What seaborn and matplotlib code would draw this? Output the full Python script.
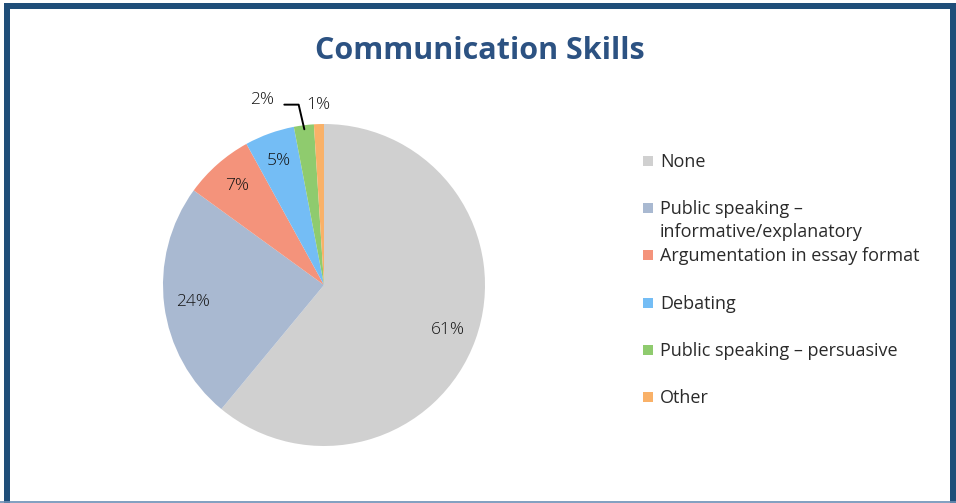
import numpy as np
import matplotlib
matplotlib.use("Agg")
import matplotlib.pyplot as plt
import matplotlib.patches as mpatches
from matplotlib.lines import Line2D
import seaborn as sns

# Survey shares of communication-skill activities
categories = [
    "None",
    "Public speaking \u2013\ninformative/explanatory",
    "Argumentation in essay format",
    "Debating",
    "Public speaking \u2013 persuasive",
    "Other",
]
shares = [61, 24, 7, 5, 2, 1]
colors = ["#d0d0d0", "#a9b9d1", "#f4937b", "#74bdf5", "#8fcb6e", "#f9b168"]

sns.set_theme(style="white")
plt.rcParams["font.family"] = ["Open Sans", "DejaVu Sans"]

W, H = 956, 503
fig = plt.figure(figsize=(W / 100, H / 100), dpi=100)
fig.patch.set_facecolor("white")

# Pie axes: centre (324, 285) px, radius 161 px
cx, cy, r = 324, 285, 161
ax = fig.add_axes([(cx - r) / W, (H - cy - r) / H, 2 * r / W, 2 * r / H])
wedges, _ = ax.pie(
    shares,
    colors=colors,
    startangle=90,
    counterclock=False,
    radius=1.0,
    wedgeprops=dict(linewidth=0),
)
ax.set_xlim(-1, 1)
ax.set_ylim(-1, 1)
ax.set_aspect("equal")
ax.axis("off")

txt_col = "#2a2a2a"
pct_col = "#141414"
label_kw = dict(fontsize=12.5, color=pct_col, ha="center", va="center", fontweight="light")
for w, v in zip(wedges, shares):
    mid = np.deg2rad((w.theta1 + w.theta2) / 2)
    ux, uy = np.cos(mid), np.sin(mid)
    txt = f"{v}%"
    if v >= 5:
        ax.text(0.82 * ux, 0.82 * uy, txt, **label_kw)
    elif v == 1:
        ax.text(1.12 * ux, 1.12 * uy, txt, clip_on=False, **label_kw)
    else:
        ax.annotate(
            txt,
            xy=(0.975 * ux, 0.975 * uy),
            xytext=(-0.31, 1.15),
            ha="right", va="center", fontsize=12.5, color=pct_col, fontweight="light",
            annotation_clip=False,
            arrowprops=dict(
                arrowstyle="-", color="black", lw=1.4,
                relpos=(1.0, 0.2), shrinkA=5, shrinkB=0,
                connectionstyle="angle,angleA=0,angleB=103,rad=0",
            ),
        )

# Title
fig.text(480 / W, 1 - 51 / H, "Communication Skills", ha="center", va="center",
         fontsize=22, fontweight="bold", color="#2c5282")

# Legend entries: square marker + label, one row slot each
leg_x, leg_y0, leg_dy = 648, 161, 47.2
line_gap = 23
for i, (lab, col) in enumerate(zip(categories, colors)):
    y = leg_y0 + i * leg_dy
    fig.patches.append(mpatches.Rectangle(((leg_x - 5) / W, 1 - (y + 5) / H), 10 / W, 10 / H,
                                          transform=fig.transFigure, facecolor=col,
                                          edgecolor="none"))
    for j, part in enumerate(lab.split("\n")):
        fig.text((leg_x + 12) / W, 1 - (y + 1 + j * line_gap) / H, part, ha="left",
                 va="center", fontsize=13, color=txt_col)

# Chart frame: dark border on left/top/right, thin light line at bottom
frame_col = "#1f4e79"
lw_pt = 6 * 72 / 100
fig.add_artist(Line2D([6.5 / W, 6.5 / W], [0, 1 - 6 / H], transform=fig.transFigure,
                      color=frame_col, lw=lw_pt, solid_capstyle="projecting"))
fig.add_artist(Line2D([6.5 / W, 953 / W], [1 - 6 / H, 1 - 6 / H], transform=fig.transFigure,
                      color=frame_col, lw=lw_pt, solid_capstyle="projecting"))
fig.add_artist(Line2D([953 / W, 953 / W], [1 - 6 / H, 0], transform=fig.transFigure,
                      color=frame_col, lw=lw_pt, solid_capstyle="projecting"))
fig.add_artist(Line2D([0, 1], [1.5 / H, 1.5 / H], transform=fig.transFigure,
                      color="#6b8fb5", lw=1.2))

fig.savefig("out.png", dpi=100, facecolor="white")
